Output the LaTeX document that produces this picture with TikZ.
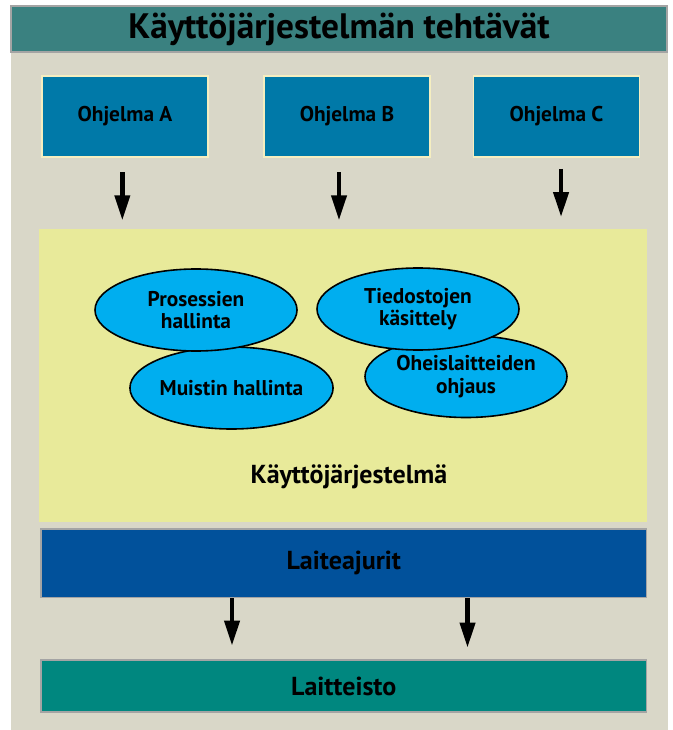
\documentclass[tikz,border=0pt]{standalone}
\usepackage{fontspec}
\setmainfont{PT Sans}
\usepackage{xcolor}
\usetikzlibrary{positioning,arrows.meta,shapes.geometric}
\definecolor{ktitle}{HTML}{3A8180}
\definecolor{kpanel}{HTML}{D9D7C8}
\definecolor{kprog}{HTML}{0079A8}
\definecolor{kos}{HTML}{E8EA9A}
\definecolor{ktask}{HTML}{00AEEF}
\definecolor{kdrv}{HTML}{01519B}
\definecolor{khw}{HTML}{00877F}
\definecolor{kedge}{HTML}{A4A4A4}
\definecolor{kcream}{HTML}{F5EEC0}

\begin{document}
\begin{tikzpicture}[
  x=0.75pt,y=-0.75pt,
  font=\bfseries\fontsize{16}{17}\selectfont,
  prog/.style={draw=kcream,fill=kprog,line width=0.8pt,
               minimum width=124.5pt,minimum height=60.75pt,align=center},
  osbox/.style={fill=kos,minimum width=456pt,minimum height=219.75pt},
  task/.style={ellipse,draw=black,fill=ktask,line width=1.2pt,
               minimum width=151.5pt,minimum height=61.5pt,align=center,inner sep=0pt},
  layer/.style={draw=kedge,line width=1pt,minimum width=454pt,align=center,
                font=\bfseries\fontsize{19.5}{22}\selectfont},
  arr/.style={-{Triangle[length=19pt,width=11pt]},line width=3.6pt,black}
]
\useasboundingbox (0,0) rectangle (672,730);
% background panel + title
\fill[kpanel] (11,52) rectangle (668,730);
\node[draw=kedge,fill=ktitle,line width=1pt,minimum width=492pt,minimum height=34.5pt,
      font=\bfseries\fontsize{26.5}{30}\selectfont] (title) at (339,29) {Käyttöjärjestelmän tehtävät};

% programs row
\node[prog] (progA) at (125,116.5) {Ohjelma A};
\node[prog] (progB) at (347,116.5) {Ohjelma B};
\node[prog] (progC) at (556.5,116.5) {Ohjelma C};

% operating system
\node[osbox] (os) at (343,375.5) {};
\node[task] (mem) at (231.5,388) {Muistin hallinta};
\node[task] (dev) at (466,376.5) {Oheislaitteiden\\ ohjaus};
\node[task] (proc) at (196,310) {Prosessien\\ hallinta};
\node[task] (file) at (418,309) {Tiedostojen\\ käsittely};
\node[font=\bfseries\fontsize{19.5}{22}\selectfont] (oslbl) at (349,477) {Käyttöjärjestelmä};

% drivers + hardware
\node[layer,fill=kdrv,minimum height=51.5pt] (drv) at (343.8,563.4) {Laiteajurit};
\node[layer,fill=khw,minimum height=39pt] (hw) at (343.8,686) {Laitteisto};

\coordinate (d1) at (232,0);
\coordinate (d2) at (467.5,0);

\draw[arr] ([xshift=-2pt,yshift=-11pt]progA.south) -- ([xshift=-2pt,yshift=6pt]os.north -| progA);
\draw[arr] ([xshift=-6pt,yshift=-11pt]progB.south) -- ([xshift=-6pt,yshift=6pt]os.north -| progB);
\draw[arr] ([xshift=3.4pt,yshift=-8.5pt]progC.south) -- ([xshift=3.4pt,yshift=8.5pt]os.north -| progC);
\draw[arr] (drv.south -| d1) -- ([yshift=10pt]hw.north -| d1);
\draw[arr] (drv.south -| d2) -- ([yshift=8.5pt]hw.north -| d2);
\end{tikzpicture}
\end{document}
